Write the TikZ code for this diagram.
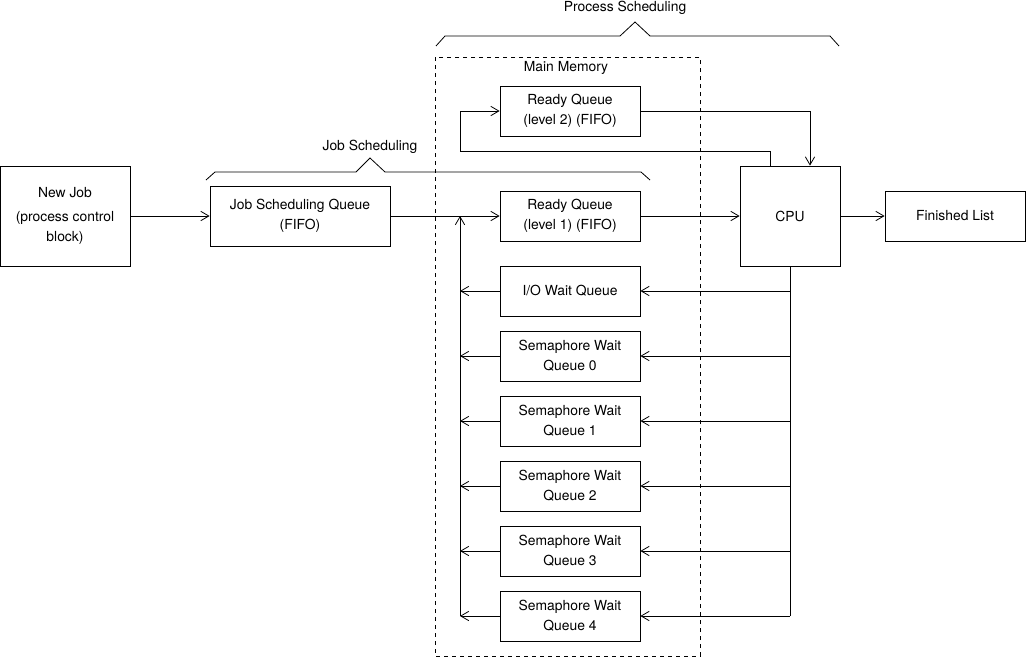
\documentclass[tikz,border=0pt]{standalone}
\usepackage{fontspec}
\setmainfont{TeX Gyre Heros}
\usetikzlibrary{arrows.meta}

\begin{document}
\begin{tikzpicture}[x=0.75pt, y=-0.75pt, line width=0.6pt,
  >={Straight Barb[length=6pt,width=7pt]},
  every node/.style={font=\fontsize{10.4}{15}\selectfont, align=center, inner sep=0pt},
  box/.style={draw, minimum width=105pt, minimum height=37.5pt},
  bigbox/.style={draw, minimum width=75pt, minimum height=75pt}]
\useasboundingbox (0,0) rectangle (1027,657);

% outer stages
\node[bigbox, minimum width=97.5pt] (newjob) at (65,216) {New Job\\[3pt](process control\\block)};
\node[box, minimum width=135pt, minimum height=45pt] (jsq) at (300,216) {Job Scheduling Queue\\(FIFO)};
\node[bigbox] (cpu) at (790,216) {CPU};
\node[box] (done) at (955,216) {Finished List};

% main memory
\draw[dashed] (435,57) rectangle (700,656);
\node (mem) at (566,68) {Main Memory};
\node[box] (rq2) at (570,111) {Ready Queue\\(level 2) (FIFO)};
\node[box] (rq1) at (570,216) {Ready Queue\\(level 1) (FIFO)};
\node[box] (io) at (570,291) {I/O Wait Queue};
\node[box] (sq0) at (570,356) {Semaphore Wait\\Queue 0};
\node[box] (sq1) at (570,421) {Semaphore Wait\\Queue 1};
\node[box] (sq2) at (570,486) {Semaphore Wait\\Queue 2};
\node[box] (sq3) at (570,551) {Semaphore Wait\\Queue 3};
\node[box] (sq4) at (570,616) {Semaphore Wait\\Queue 4};

% braces
\draw (206,180) -- (215,172) -- (356,172) -- (370,158) -- (385,172) -- (641,172) -- (650,180);
\node (jobsched) at (370,147) {Job Scheduling};
\draw (436,46) -- (445,36) -- (620,36) -- (635,22) -- (650,36) -- (830,36) -- (839,46);
\node (procsched) at (625,8) {Process Scheduling};

% main flow
\draw[->] (newjob) -- (jsq);
\draw[->] (jsq) -- (rq1);
\draw[->] (rq1) -- (cpu);
\draw[->] (cpu) -- (done);

% level 2 loop
\coordinate (back) at (460,151);
\draw[->] (rq2.east) -| ([xshift=15pt]cpu.north);
\draw[->] ([xshift=-15pt]cpu.north) |- (back) |- (rq2.west);

% wait queues
\coordinate (ret) at (460,616);
\draw (cpu.south) -- (cpu.south |- sq4);
\draw[->] (ret) -- (ret |- rq1);
\foreach \q in {io,sq0,sq1,sq2,sq3,sq4} {
  \draw[->] (cpu.south |- \q.east) -- (\q.east);
  \draw[->] (\q.west) -- (\q.west -| ret);
}
\end{tikzpicture}
\end{document}
